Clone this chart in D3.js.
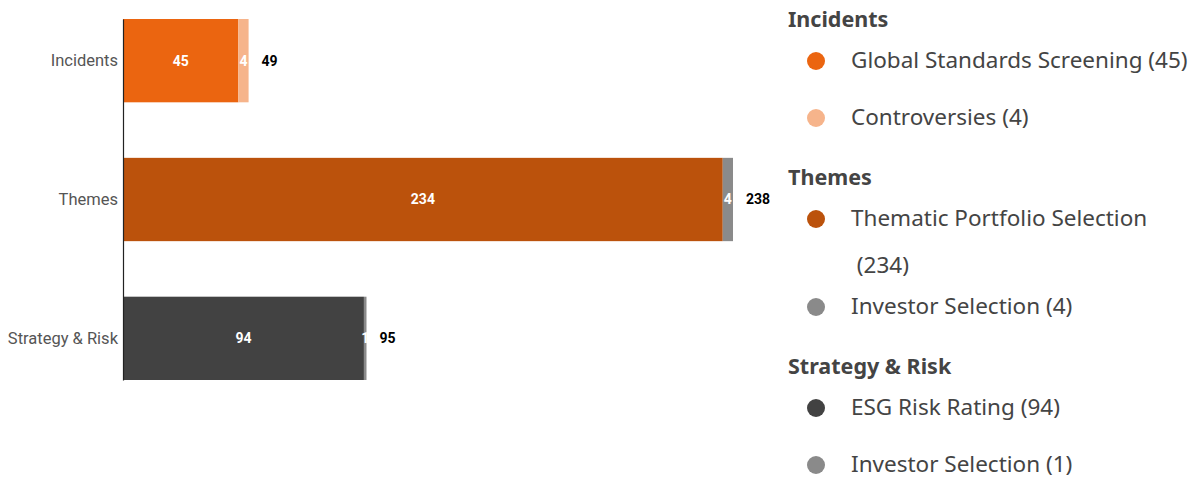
<!DOCTYPE html>
<html>
<head>
<meta charset="utf-8">
<script src="https://cdn.jsdelivr.net/npm/d3@7"></script>
<style>
  body { margin: 0; background: #fff; }
  svg { display: block; }
</style>
</head>
<body>
<svg id="chart" width="1194" height="477"></svg>
<script>
// data
const categories = ["Incidents", "Themes", "Strategy & Risk"];
const primaryLabels = ["Global Standards Screening", "Thematic Portfolio Selection", "ESG Risk Rating"];
const primaryValues = [45, 234, 94];
const secondaryLabels = ["Controversies", "Investor Selection", "Investor Selection"];
const secondaryValues = [4, 4, 1];
const primaryColors = ["#eb6510", "#bb520c", "#424242"];
const secondaryColors = ["#f6b48b", "#8a8a8a", "#8a8a8a"];

const rows = categories.map((c, i) => ({
    category: c,
    segments: [
        { name: primaryLabels[i], value: primaryValues[i], color: primaryColors[i] },
        { name: secondaryLabels[i], value: secondaryValues[i], color: secondaryColors[i] }
    ],
    total: primaryValues[i] + secondaryValues[i]
}));

const svg = d3.select("#chart");
const margin = { left: 123, top: 19 };
const plotW = 610, plotH = 361;

const x = d3.scaleLinear()
    .domain([0, d3.max(rows, d => d.total)])
    .range([0, plotW]);

const y = d3.scaleBand()
    .domain(categories)
    .range([0, plotH])
    .paddingInner(0.4)
    .paddingOuter(0);

const g = svg.append("g").attr("transform", `translate(${margin.left},${margin.top})`);

// bars
const rowG = g.selectAll(".row")
    .data(rows)
    .join("g")
    .attr("class", "row")
    .attr("transform", d => `translate(0,${y(d.category)})`);

rowG.each(function (d) {
    let acc = 0;
    const segs = d.segments.map(s => {
        const o = { ...s, x0: acc, x1: acc + s.value };
        acc += s.value;
        return o;
    });
    const sel = d3.select(this);
    sel.selectAll("rect")
        .data(segs)
        .join("rect")
        .attr("x", s => x(s.x0))
        .attr("width", s => x(s.x1) - x(s.x0))
        .attr("y", 0)
        .attr("height", y.bandwidth())
        .attr("fill", s => s.color);

    sel.selectAll("text.seg")
        .data(segs)
        .join("text")
        .attr("class", "seg")
        .attr("x", s => (x(s.x0) + x(s.x1)) / 2)
        .attr("y", y.bandwidth() / 2)
        .attr("dy", "0.35em")
        .attr("text-anchor", "middle")
        .attr("fill", "#fff")
        .attr("font-family", "Roboto, sans-serif")
        .attr("font-weight", "bold")
        .attr("font-size", 14)
        .text(s => s.value);

    sel.append("text")
        .attr("x", x(d.total) + 13)
        .attr("y", y.bandwidth() / 2)
        .attr("dy", "0.35em")
        .attr("fill", "#000")
        .attr("font-family", "Roboto, sans-serif")
        .attr("font-weight", "bold")
        .attr("font-size", 14)
        .text(d.total);
});

// y axis
const yAxis = g.append("g")
    .call(d3.axisLeft(y).tickSize(0).tickPadding(5));
yAxis.select(".domain").attr("stroke", "#222").attr("stroke-width", 1.2);
yAxis.selectAll("text")
    .attr("font-family", "Roboto, sans-serif")
    .attr("font-size", 16.5)
    .attr("fill", "#555");

// legend
const legend = svg.append("g").attr("transform", "translate(788,0)");
const legendFont = "'Noto Sans', 'Open Sans', sans-serif";
const legendSize = 22.5;
const titleSize = 21.5;
const maxTextW = 343;
let cy = 19;

function wrapWords(text, width, fontSize) {
    const probe = legend.append("text")
        .attr("font-family", legendFont)
        .attr("font-size", fontSize);
    const words = text.split(" ");
    const lines = [];
    let cur = "";
    for (const w of words) {
        const test = cur ? cur + " " + w : w;
        probe.text(test);
        if (probe.node().getComputedTextLength() > width && cur) {
            lines.push(cur);
            cur = " " + w;
        } else {
            cur = test;
        }
    }
    lines.push(cur);
    probe.remove();
    return lines;
}

rows.forEach((r, gi) => {
    if (gi > 0) cy += 60;
    legend.append("text")
        .attr("x", 0)
        .attr("y", cy)
        .attr("dy", "0.35em")
        .attr("font-family", legendFont)
        .attr("font-weight", "bold")
        .attr("font-size", titleSize)
        .attr("fill", "#444")
        .text(r.category);
    cy += 41;
    r.segments.forEach((s, si) => {
        if (si > 0) cy += 57;
        legend.append("circle")
            .attr("cx", 28)
            .attr("cy", cy + 1)
            .attr("r", 9)
            .attr("fill", s.color);
        const lines = wrapWords(`${s.name} (${s.value})`, maxTextW, legendSize);
        const t = legend.append("text")
            .attr("x", 63)
            .attr("y", cy)
            .attr("font-family", legendFont)
            .attr("font-size", legendSize)
            .attr("fill", "#444")
            .style("white-space", "pre");
        lines.forEach((ln, li) => {
            t.append("tspan")
                .attr("x", 63)
                .attr("dy", li === 0 ? "0.35em" : 47)
                .text(ln);
        });
        cy += (lines.length - 1) * 31;
    });
});
</script>
</body>
</html>
